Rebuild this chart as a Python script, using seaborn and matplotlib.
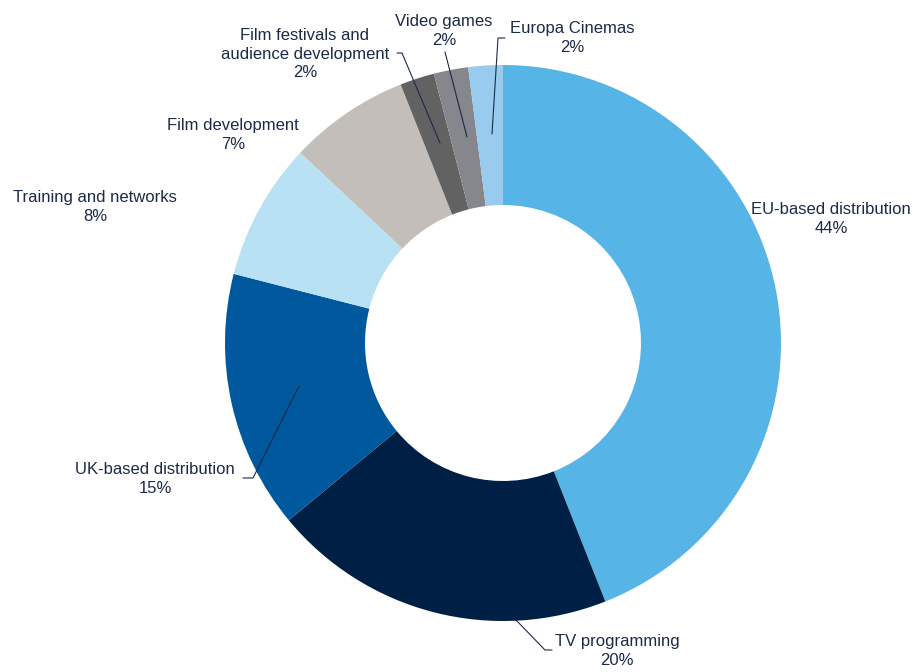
import matplotlib
matplotlib.use("Agg")
import matplotlib.pyplot as plt
import seaborn as sns

# Budget shares by programme strand (percent)
categories = [
    "EU-based distribution",
    "TV programming",
    "UK-based distribution",
    "Training and networks",
    "Film development",
    "Film festivals and\naudience development",
    "Video games",
    "Europa Cinemas",
]
shares = [44, 20, 15, 8, 7, 2, 2, 2]
colors = ["#56B4E6", "#001F45", "#00589D", "#B9E1F4",
          "#C3BEBA", "#626263", "#85878C", "#98CBEE"]

sns.set_theme(style="white")
plt.rcParams["font.family"] = ["Liberation Sans", "DejaVu Sans"]

W, H = 913, 672
fig = plt.figure(figsize=(W / 100, H / 100), dpi=100)
ax = fig.add_axes([0, 0, 1, 1])

def py(y):
    """Convert a top-down pixel row to the upward data axis."""
    return H - y

cx, cy, R, r_in = 503, 343, 278, 138
ax.pie(
    shares,
    colors=colors,
    startangle=90,
    counterclock=False,
    radius=R,
    center=(cx, py(cy)),
    wedgeprops=dict(width=R - r_in, linewidth=0),
)

text_color = "#1B2A47"
label_pos = [
    (831, 219),
    (617, 651),
    (155, 479),
    (95, 207),
    (233, 135),
    (305, 54),
    (444, 31),
    (572, 38),
]
for name, val, (lx, ly) in zip(categories, shares, label_pos):
    ax.text(lx, py(ly), f"{name}\n{val}%", ha="center", va="center",
            fontsize=12, color=text_color, linespacing=1.33)

# Leader lines for labels placed away from their slices
leaders = [
    [(516, 620), (545, 650), (552, 650)],
    [(299, 386), (253, 478), (243, 478)],
    [(440, 143), (402, 53), (397, 53)],
    [(467, 137), (445, 52)],
    [(492, 134), (498, 38), (505, 38)],
]
for pts in leaders:
    xs = [p[0] for p in pts]
    ys = [py(p[1]) for p in pts]
    ax.plot(xs, ys, color=text_color, lw=0.8)

ax.set_xlim(0, W)
ax.set_ylim(0, H)
ax.set_aspect("equal")
ax.axis("off")

fig.savefig("out.png", dpi=100, facecolor="white")
